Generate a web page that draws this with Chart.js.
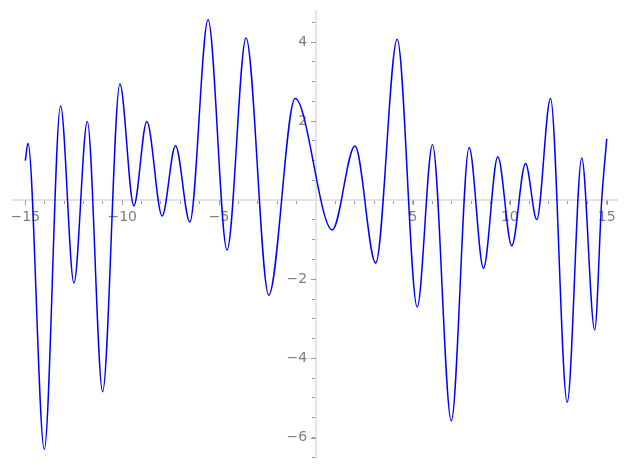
<!DOCTYPE html>
<html>
<head>
<meta charset="utf-8">
<script src="https://cdn.jsdelivr.net/npm/chart.js@4"></script>
<style>
  html, body { margin: 0; padding: 0; background: #fff; }
  #wrap { width: 627px; height: 470px; }
</style>
</head>
<body>
<div id="wrap"><canvas id="plot"></canvas></div>
<script>
// turning points of the curve
const xs = [-15, -14.86, -14.02, -13.18, -12.49, -11.80, -11.01, -10.12, -9.40, -8.73,
  -7.94, -7.25, -6.51, -5.57, -4.59, -3.61, -2.44, -1.08, 0.84, 2.01,
  3.08, 4.19, 5.22, 6.01, 6.98, 7.90, 8.64, 9.38, 10.10, 10.81,
  11.39, 12.10, 12.96, 13.71, 14.38, 14.74, 15];
const ys = [1.0, 1.44, -6.30, 2.38, -2.09, 1.99, -4.84, 2.94, -0.14, 1.99,
  -0.40, 1.38, -0.55, 4.56, -1.26, 4.10, -2.40, 2.57, -0.75, 1.37,
  -1.59, 4.07, -2.70, 1.40, -5.58, 1.33, -1.72, 1.10, -1.15, 0.93,
  -0.49, 2.57, -5.11, 1.07, -3.28, 0.0, 1.55];

const xLabels = [-15, -10, -5, 5, 10, 15];
const yLabels = [-6, -4, -2, 2, 4];
const xMinor = [];
for (let v = -15; v <= 15; v++) xMinor.push(v);
const yMinor = [];
for (let v = -6.5; v <= 4.5; v += 0.5) yMinor.push(v);

const fmt = v => (v < 0 ? '\u2212' + Math.abs(v) : String(v));

const axisGrey = '#e3e3e3';
const tickGrey = '#9a9a9a';
const labelGrey = '#7f7f7f';

// longer marks for labelled ticks
const majorTicks = {
  id: 'majorTicks',
  afterDraw(chart) {
    const ctx = chart.ctx, sx = chart.scales.x, sy = chart.scales.y;
    const x0 = sx.getPixelForValue(0), y0 = sy.getPixelForValue(0);
    ctx.save();
    ctx.strokeStyle = tickGrey;
    ctx.lineWidth = 1;
    ctx.beginPath();
    xLabels.forEach(v => {
      const px = Math.round(sx.getPixelForValue(v)) + 0.5;
      ctx.moveTo(px, y0); ctx.lineTo(px, y0 + 5);
    });
    yLabels.forEach(v => {
      const py = Math.round(sy.getPixelForValue(v)) + 0.5;
      ctx.moveTo(x0, py); ctx.lineTo(x0 - 5, py);
    });
    ctx.stroke();
    ctx.restore();
  }
};

new Chart(document.getElementById('plot'), {
  type: 'line',
  data: {
    datasets: [{
      data: xs.map((x, i) => ({ x: x, y: ys[i] })),
      borderColor: '#0000ff',
      borderWidth: 1.5,
      pointRadius: 0,
      fill: false,
      cubicInterpolationMode: 'monotone'
    }]
  },
  options: {
    responsive: true,
    maintainAspectRatio: false,
    animation: false,
    layout: { padding: { left: 12.7, right: 10, top: 10, bottom: 10 } },
    plugins: { legend: { display: false }, tooltip: { enabled: false } },
    scales: {
      x: {
        type: 'linear',
        position: { y: 0 },
        min: -15.65,
        max: 15.53,
        afterFit: s => { s.height = 0; },
        afterBuildTicks: s => { s.ticks = xMinor.map(v => ({ value: v })); },
        ticks: {
          autoSkip: false,
          maxRotation: 0,
          padding: 6,
          color: labelGrey,
          font: { family: 'DejaVu Sans', size: 14 },
          callback: v => (xLabels.includes(v) ? fmt(v) : '')
        },
        grid: { drawOnChartArea: false, drawTicks: true, tickLength: 3, tickColor: tickGrey, tickWidth: 1 },
        border: { color: axisGrey, width: 2 }
      },
      y: {
        type: 'linear',
        position: { x: 0 },
        min: -6.533,
        max: 4.774,
        afterFit: s => { s.width = 0; },
        afterBuildTicks: s => { s.ticks = yMinor.map(v => ({ value: v })); },
        ticks: {
          autoSkip: false,
          color: labelGrey,
          font: { family: 'DejaVu Sans', size: 14 },
          // labels sit flush on the axis here, so pad them with spaces
          callback: v => (yLabels.includes(v) ? fmt(v) + '  ' : '')
        },
        grid: { drawOnChartArea: false, drawTicks: true, tickLength: 3, tickColor: tickGrey, tickWidth: 1 },
        border: { color: axisGrey, width: 2 }
      }
    }
  },
  plugins: [majorTicks]
});
</script>
</body>
</html>
